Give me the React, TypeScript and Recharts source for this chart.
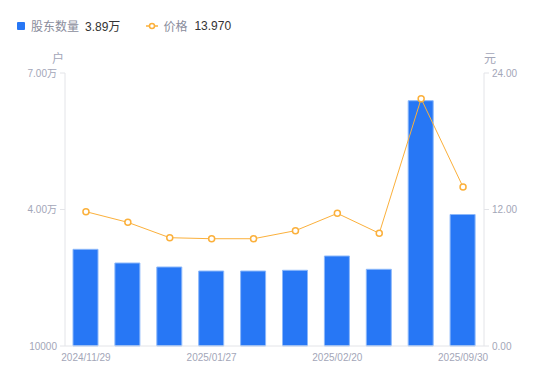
import { ComposedChart, Bar, Line, XAxis, YAxis } from 'recharts';

const dates = [
  '2024/11/29', '2024/12/20', '2025/01/10', '2025/01/27', '2025/02/07',
  '2025/02/14', '2025/02/20', '2025/03/31', '2025/06/30', '2025/09/30',
];
const holders = [31250, 28240, 27360, 26480, 26480, 26640, 29780, 26860, 63910, 38900];
const prices = [11.81, 10.87, 9.52, 9.43, 9.43, 10.14, 11.66, 9.91, 21.74, 13.97];

const holderTicks = [10000, 40000, 70000];
const priceTicks = [0, 12, 24];

const data = dates.map((d, i) => ({ date: d, holders: holders[i], price: prices[i] }));

const FONT = '"Liberation Sans", Arial, "Noto Sans CJK SC", sans-serif';
const TICK = { fontSize: 10, fill: '#a3a6b8', fontFamily: FONT };
const AXIS = '#e3e4e8';
const BLUE = '#2777f5';
const ORANGE = '#fbb03b';

const fmtHolders = (v: number) => (v > 10000 ? (v / 10000).toFixed(2) + '万' : String(v));

export default function App() {
  return (
    <div style={{ position: 'absolute', left: 0, top: 0, width: 550, height: 381, background: '#fff', fontFamily: FONT }}>
      <div style={{ position: 'absolute', left: 17, top: 17, display: 'flex', alignItems: 'center', fontSize: 12, whiteSpace: 'nowrap' }}>
        <span style={{ width: 8, height: 8, background: BLUE, borderRadius: 1, display: 'inline-block' }} />
        <span style={{ color: '#8a8d9c', marginLeft: 6 }}>股东数量</span>
        <span style={{ color: '#333', marginLeft: 6 }}>3.89万</span>
        <svg width="12" height="8" style={{ marginLeft: 26 }}>
          <line x1="0" y1="4" x2="12" y2="4" stroke={ORANGE} strokeWidth="1.5" />
          <circle cx="6" cy="4" r="2.5" fill="#fff" stroke={ORANGE} strokeWidth="1.5" />
        </svg>
        <span style={{ color: '#8a8d9c', marginLeft: 5 }}>价格</span>
        <span style={{ color: '#333', marginLeft: 7 }}>13.970</span>
      </div>
      <div style={{ position: 'absolute', left: 52, top: 49, fontSize: 12, color: '#a3a6b8' }}>户</div>
      <div style={{ position: 'absolute', left: 484, top: 49, fontSize: 12, color: '#a3a6b8' }}>元</div>
      <ComposedChart width={550} height={381} data={data} margin={{ top: 73, right: 0, bottom: 0, left: 0 }}>
        <XAxis
          dataKey="date"
          height={35}
          interval={2}
          tickLine={false}
          axisLine={{ stroke: AXIS }}
          tick={TICK}
        />
        <YAxis
          yAxisId="left"
          width={65}
          domain={[10000, 70000]}
          ticks={holderTicks}
          tickFormatter={fmtHolders}
          axisLine={{ stroke: AXIS }}
          tickLine={{ stroke: AXIS }}
          tickSize={5}
          tickMargin={3}
          tick={TICK}
        />
        <YAxis
          yAxisId="right"
          orientation="right"
          width={66}
          domain={[0, 24]}
          ticks={priceTicks}
          tickFormatter={(v: number) => v.toFixed(2)}
          axisLine={{ stroke: AXIS }}
          tickLine={{ stroke: AXIS }}
          tickSize={5}
          tickMargin={3}
          tick={TICK}
        />
        <Bar
          yAxisId="left"
          dataKey="holders"
          barSize={25}
          fill={BLUE}
          stroke="#8cb8fa"
          strokeWidth={1}
          isAnimationActive={false}
        />
        <Line
          yAxisId="right"
          dataKey="price"
          type="linear"
          stroke={ORANGE}
          strokeWidth={1}
          dot={{ r: 3, fill: '#fff', stroke: ORANGE, strokeWidth: 1.5 }}
          activeDot={false}
          isAnimationActive={false}
        />
      </ComposedChart>
    </div>
  );
}
